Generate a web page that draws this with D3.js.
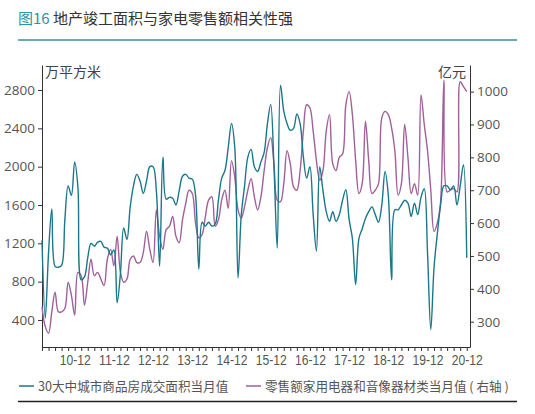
<!DOCTYPE html>
<html>
<head>
<meta charset="utf-8">
<script src="https://cdn.jsdelivr.net/npm/d3@7/dist/d3.min.js"></script>
<style>
  body { margin: 0; background: #fff; }
  svg { display: block; font-family: "Noto Sans CJK SC", "Noto Sans", sans-serif; }
  .axis path, .axis line { stroke: #333; }
  .axis text { fill: #555; font-family: "Open Sans", "Noto Sans", sans-serif; font-size: 13.5px; }
  .x.axis text { font-family: "Liberation Sans", "DejaVu Sans", sans-serif; font-size: 15px; }
</style>
</head>
<body>
<div id="chart"></div>
<script>
// monthly values, Feb 2010 .. Dec 2020
var areaSold = [
  1230, 420, 1100, 1560, 960, 950, 970, 1450, 1800, 1700, 2050, 1780,
  820, 850, 1050, 1200, 1170, 1210, 1220, 1160, 1150, 1080, 1130, 580,
  880, 1360, 1240, 1580, 1800, 1920, 1850, 1720, 1850, 2000, 2000, 1750,
  960, 2100, 1660, 1680, 1670, 1600, 1750, 1900, 1920, 1880, 1870, 1700,
  930, 1420, 1380, 1420, 1380, 1400, 1650, 1880, 1960, 2200, 2450, 2200,
  840, 1500, 1800, 2100, 2180, 2000, 1950, 2050, 2150, 2450, 2650, 2000,
  1150, 2850, 2580, 2450, 2380, 2400, 2550, 2450, 2100, 1880, 2000, 1500,
  1120, 2000, 1750, 1530, 1430, 1530, 1430, 1500, 1650, 1760, 1450, 1250,
  770, 1250, 1350, 1460, 1530, 1580, 1500, 1420, 1600, 1950, 1700, 820,
  1550, 1550, 1600, 1650, 1620, 1480, 1620, 1500, 1680, 1770, 1100, 300,
  950, 1300, 1600, 1800, 1800, 1760, 1800, 1600, 1800, 2020, 1050
];

var applianceSales = [
  345, 285, 265, 330, 390, 330, 330, 340, 420, 380, 320, 450,
  440, 350, 420, 490, 440, 450, 430, 410, 490, 520, 470, 560,
  450, 420, 430, 490, 500, 480, 480, 510, 575, 520, 480, 640,
  560, 520, 580, 590, 620, 560, 540, 610, 660, 700, 690, 600,
  555, 565, 620, 670, 680, 590, 610, 670, 700, 645, 790, 740,
  640, 615, 650, 700, 735, 680, 640, 680, 760, 830, 860, 780,
  670, 665, 720, 820, 780, 710, 700, 760, 880, 960, 950, 880,
  790, 730, 760, 880, 930, 780, 760, 800, 810, 960, 1000, 930,
  790, 690, 720, 910, 790, 690, 700, 720, 920, 940, 930, 890,
  820, 685, 720, 900, 800, 690, 720, 685, 990, 900, 820, 700,
  575, 600, 665, 1035, 695, 700, 705, 695, 1030, 1015, 1000
];

var yearLabels = ['10-12', '11-12', '12-12', '13-12', '14-12', '15-12', '16-12', '17-12', '18-12', '19-12', '20-12'];
var leftTicks = [400, 800, 1200, 1600, 2000, 2400, 2800];
var rightTicks = [300, 400, 500, 600, 700, 800, 900, 1000];

var TEAL = '#1b7789';
var PURPLE = '#a0609a';

var width = 535, height = 414;
var plot = { left: 42, right: 470, top: 65, bottom: 347 };

var svg = d3.select('#chart').append('svg')
  .attr('width', width)
  .attr('height', height);

// title + rules
var title = svg.append('text').attr('x', 18).attr('y', 24).attr('font-size', 15);
title.append('tspan').attr('fill', '#2a95a5').text('图16');
title.append('tspan').attr('fill', '#333').text(' 地产竣工面积与家电零售额相关性强');

svg.append('line').attr('x1', 18).attr('x2', 517).attr('y1', 40).attr('y2', 40)
  .attr('stroke', '#3a8f9a').attr('stroke-width', 1.3);
svg.append('line').attr('x1', 18).attr('x2', 517).attr('y1', 401.5).attr('y2', 401.5)
  .attr('stroke', '#222').attr('stroke-width', 1.5);

// scales
var x = d3.scaleLinear().domain([0, 131]).range([plot.left, plot.right]);
var yLeft = d3.scaleLinear().domain([118, 3061]).range([plot.bottom, plot.top]);
var yRight = d3.scaleLinear().domain([223, 1081]).range([plot.bottom, plot.top]);

var monthTicks = d3.range(0, areaSold.length, 2);

var xAxis = d3.axisBottom(x)
  .tickValues(monthTicks)
  .tickSize(4)
  .tickSizeOuter(0)
  .tickPadding(3)
  .tickFormat(function(i) {
    return i % 12 === 10 ? yearLabels[(i - 10) / 12] : '';
  });

var gx = svg.append('g').attr('class', 'x axis')
  .attr('transform', 'translate(0,' + plot.bottom + ')')
  .call(xAxis);

// squeeze the year labels like the narrow font in the source
gx.selectAll('text')
  .filter(function() { return this.textContent !== ''; })
  .attr('textLength', 31)
  .attr('lengthAdjust', 'spacingAndGlyphs');

svg.append('g').attr('class', 'y axis')
  .attr('transform', 'translate(' + plot.left + ',0)')
  .call(d3.axisLeft(yLeft).tickValues(leftTicks).tickFormat(d3.format('d'))
    .tickSize(4).tickSizeOuter(0).tickPadding(3));

svg.append('g').attr('class', 'y axis')
  .attr('transform', 'translate(' + plot.right + ',0)')
  .call(d3.axisRight(yRight).tickValues(rightTicks).tickFormat(d3.format('d'))
    .tickSize(4).tickSizeOuter(0).tickPadding(3));

svg.append('text').attr('x', 45).attr('y', 77).attr('font-size', 14).attr('fill', '#444').text('万平方米');
svg.append('text').attr('x', 466).attr('y', 77).attr('font-size', 14).attr('fill', '#444')
  .attr('text-anchor', 'end').text('亿元');

// lines
var leftLine = d3.line()
  .x(function(d, i) { return x(i); })
  .y(function(d) { return yLeft(d); })
  .curve(d3.curveCatmullRom);

var rightLine = d3.line()
  .x(function(d, i) { return x(i); })
  .y(function(d) { return yRight(d); })
  .curve(d3.curveCatmullRom);

svg.append('path').datum(applianceSales)
  .attr('fill', 'none').attr('stroke', PURPLE).attr('stroke-width', 1.4)
  .attr('d', rightLine);

svg.append('path').datum(areaSold)
  .attr('fill', 'none').attr('stroke', TEAL).attr('stroke-width', 1.4)
  .attr('d', leftLine);

// legend
var legend = [
  { x: 19, color: TEAL, label: '30大中城市商品房成交面积当月值' },
  { x: 246, color: PURPLE, label: '零售额家用电器和音像器材类当月值 ( 右轴 )' }
];
var lg = svg.append('g').selectAll('g').data(legend).enter().append('g')
  .attr('transform', function(d) { return 'translate(' + d.x + ',386)'; });
lg.append('line').attr('x1', 0).attr('x2', 15).attr('stroke', function(d) { return d.color; }).attr('stroke-width', 1.5);
lg.append('text').attr('x', 19).attr('y', 4.5).attr('font-size', 12.6).attr('fill', '#555')
  .text(function(d) { return d.label; });
</script>
</body>
</html>
